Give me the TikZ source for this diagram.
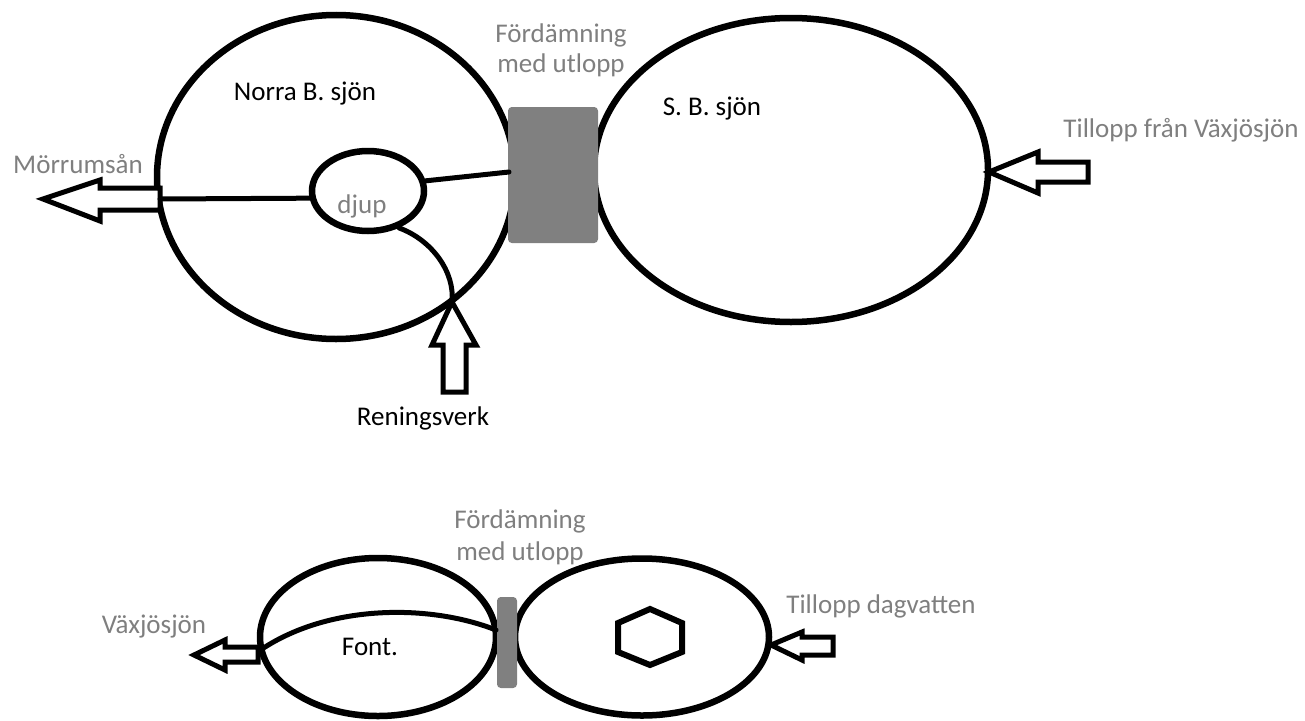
\documentclass[tikz,border=0pt]{standalone}
\usepackage{fontspec}
\setmainfont{Carlito}
\usetikzlibrary{shapes.geometric}
\definecolor{labelgray}{HTML}{7F7F7F}
\definecolor{damgray}{HTML}{808080}
\tikzset{
  lake/.style={draw=black, line width=6.5pt, ellipse, inner sep=0pt},
  flow/.style={draw=black, line width=5pt, line join=miter, fill=white},
  conn/.style={draw=black, line width=5pt, line cap=round},
  dam/.style={fill=damgray, draw=damgray, line width=2pt, rounded corners=3pt},
  glabel/.style={text=labelgray, font=\fontsize{27}{32}\selectfont, inner sep=0pt, anchor=base},
  blabel/.style={text=black, font=\fontsize{27}{32}\selectfont, inner sep=0pt, anchor=base}
}
\begin{document}
\begin{tikzpicture}[x=1pt,y=-1pt]
\useasboundingbox (0,0) rectangle (1305,720);
% ---------- top ----------
\node[lake, minimum width=358pt, minimum height=324pt] (norra) at (336,177) {};
\node[lake, minimum width=394pt, minimum height=304pt] (sodra) at (791,170) {};
\node[lake, minimum width=112pt, minimum height=80pt] (djup) at (368,191) {};
\path[dam] (509,108) rectangle (597,242);
\coordinate (damL) at (509,172);
% outflow arrow left (Mörrumsån)
\path[flow] (160,188) -- (100,188) -- (100,180) -- (43,199) -- (100,221) -- (100,210) -- (160,210) -- cycle;
\coordinate (outR) at (160,199);
% inflow arrow right
\path[flow] (1088,162) -- (1038,162) -- (1038,152) -- (989,172) -- (1038,193) -- (1038,182) -- (1088,182) -- cycle;
% Reningsverk arrow
\path[flow] (443,392) -- (443,345) -- (432,345) -- (452,302) -- (476,345) -- (466,345) -- (466,392) -- cycle;
\coordinate (renTip) at (452,302);
% connectors
\draw[conn] (outR) -- (djup.187);
\draw[conn] (djup.10) -- (damL);
\draw[conn] (djup.-50) .. controls (432,240) and (455,272) .. (renTip);
% labels
\node[glabel] (fd1a) at (561,42) {Fördämning};
\node[glabel] (fd1b) at (561,72) {med utlopp};
\node[blabel] (nb) at (305,100) {Norra B. sjön};
\node[blabel] (sb) at (712,115) {S. B. sjön};
\node[glabel] (tv) at (1181,137) {Tillopp från Växjösjön};
\node[glabel] (mo) at (78,173) {Mörrumsån};
\node[glabel] (dj) at (362,213) {djup};
\node[blabel] (rv) at (423,425) {Reningsverk};
% ---------- bottom ----------
\node[lake, minimum width=236pt, minimum height=158pt] (font) at (378,637) {};
\node[lake, minimum width=254pt, minimum height=157pt] (dag) at (642,637) {};
\path[dam] (498,598) rectangle (516,687);
\coordinate (damB) at (496,630);
\coordinate (fontL) at (262,649);
\draw[conn] (fontL) .. controls (330,604) and (430,604) .. (damB);
\path[flow] (258,647) -- (225,647) -- (225,640) -- (194,655) -- (225,670) -- (225,662) -- (258,662) -- cycle;
\path[flow] (833,637) -- (802,637) -- (802,632) -- (771,645) -- (802,660) -- (802,655) -- (833,655) -- cycle;
\draw[draw=black, line width=6pt, line join=miter] (650,609) -- (682,623) -- (682,652) -- (650,665) -- (618,652) -- (618,623) -- cycle;
\node[glabel] (fd2a) at (520,528) {Fördämning};
\node[glabel] (fd2b) at (520,560) {med utlopp};
\node[glabel] (vx) at (154,633) {Växjösjön};
\node[blabel] (fo) at (370,655) {Font.};
\node[glabel] (td) at (881,613) {Tillopp dagvatten};
\end{tikzpicture}
\end{document}
